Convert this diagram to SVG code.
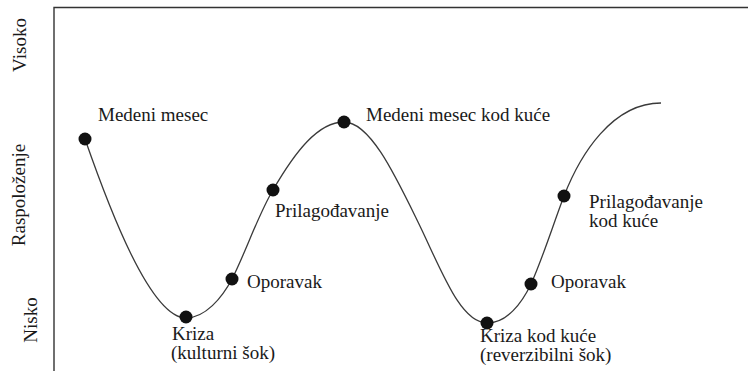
<svg xmlns="http://www.w3.org/2000/svg" width="748" height="371" viewBox="0 0 748 371">
<style>
text{font-size:19px;fill:#1a1a1a}
.dot{fill:#111}
.curve{fill:none;stroke:#3a3a3a;stroke-width:1.3}
.axis{fill:none;stroke:#333;stroke-width:1.4}
</style>
<rect width="748" height="371" fill="#fff"/>
<g font-family="'Liberation Serif', 'Times New Roman', 'DejaVu Serif', serif">
<g id="axes">
<path class="axis" d="M54,371 V7.5 H748"/>
<text transform="translate(26,45) rotate(-90)" text-anchor="middle">Visoko</text>
<text transform="translate(25,195) rotate(-90)" text-anchor="middle">Raspoloženje</text>
<text transform="translate(37,320) rotate(-90)" text-anchor="middle">Nisko</text>
</g>
<g id="connectors">
<path class="curve" d="M85,139 C108,205 150,318 186,318 C205,318 222,298 232,279 C245,254 258,215 273,190 C295,152 318,122 344,122 C370,122 395,175 418,222 C441,269 460,323 487,323 C507,323 522,303 531,284 C542,260 553,225 564,196 C580,155 612,103 661,103"/>
</g>
<g id="medeni-mesec">
<circle class="dot" cx="85" cy="139" r="6.5"/>
<text x="98" y="121">Medeni mesec</text>
</g>
<g id="kriza">
<circle class="dot" cx="186" cy="317" r="6.5"/>
<text x="172" y="340">Kriza</text>
<text x="171" y="359">(kulturni šok)</text>
</g>
<g id="oporavak">
<circle class="dot" cx="232" cy="279" r="6.5"/>
<text x="247" y="288">Oporavak</text>
</g>
<g id="prilagodavanje">
<circle class="dot" cx="273" cy="190" r="6.5"/>
<text x="275" y="217">Prilagođavanje</text>
</g>
<g id="medeni-mesec-kod-kuce">
<circle class="dot" cx="344" cy="122" r="6.5"/>
<text x="366" y="121">Medeni mesec kod kuće</text>
</g>
<g id="kriza-kod-kuce">
<circle class="dot" cx="487" cy="323" r="6.5"/>
<text x="480" y="342">Kriza kod kuće</text>
<text x="480" y="361">(reverzibilni šok)</text>
</g>
<g id="oporavak-2">
<circle class="dot" cx="531" cy="284" r="6.5"/>
<text x="551" y="288">Oporavak</text>
</g>
<g id="prilagodavanje-kod-kuce">
<circle class="dot" cx="564" cy="196" r="6.5"/>
<text x="589" y="208">Prilagođavanje</text>
<text x="589" y="227">kod kuće</text>
</g>
</g>
</svg>
